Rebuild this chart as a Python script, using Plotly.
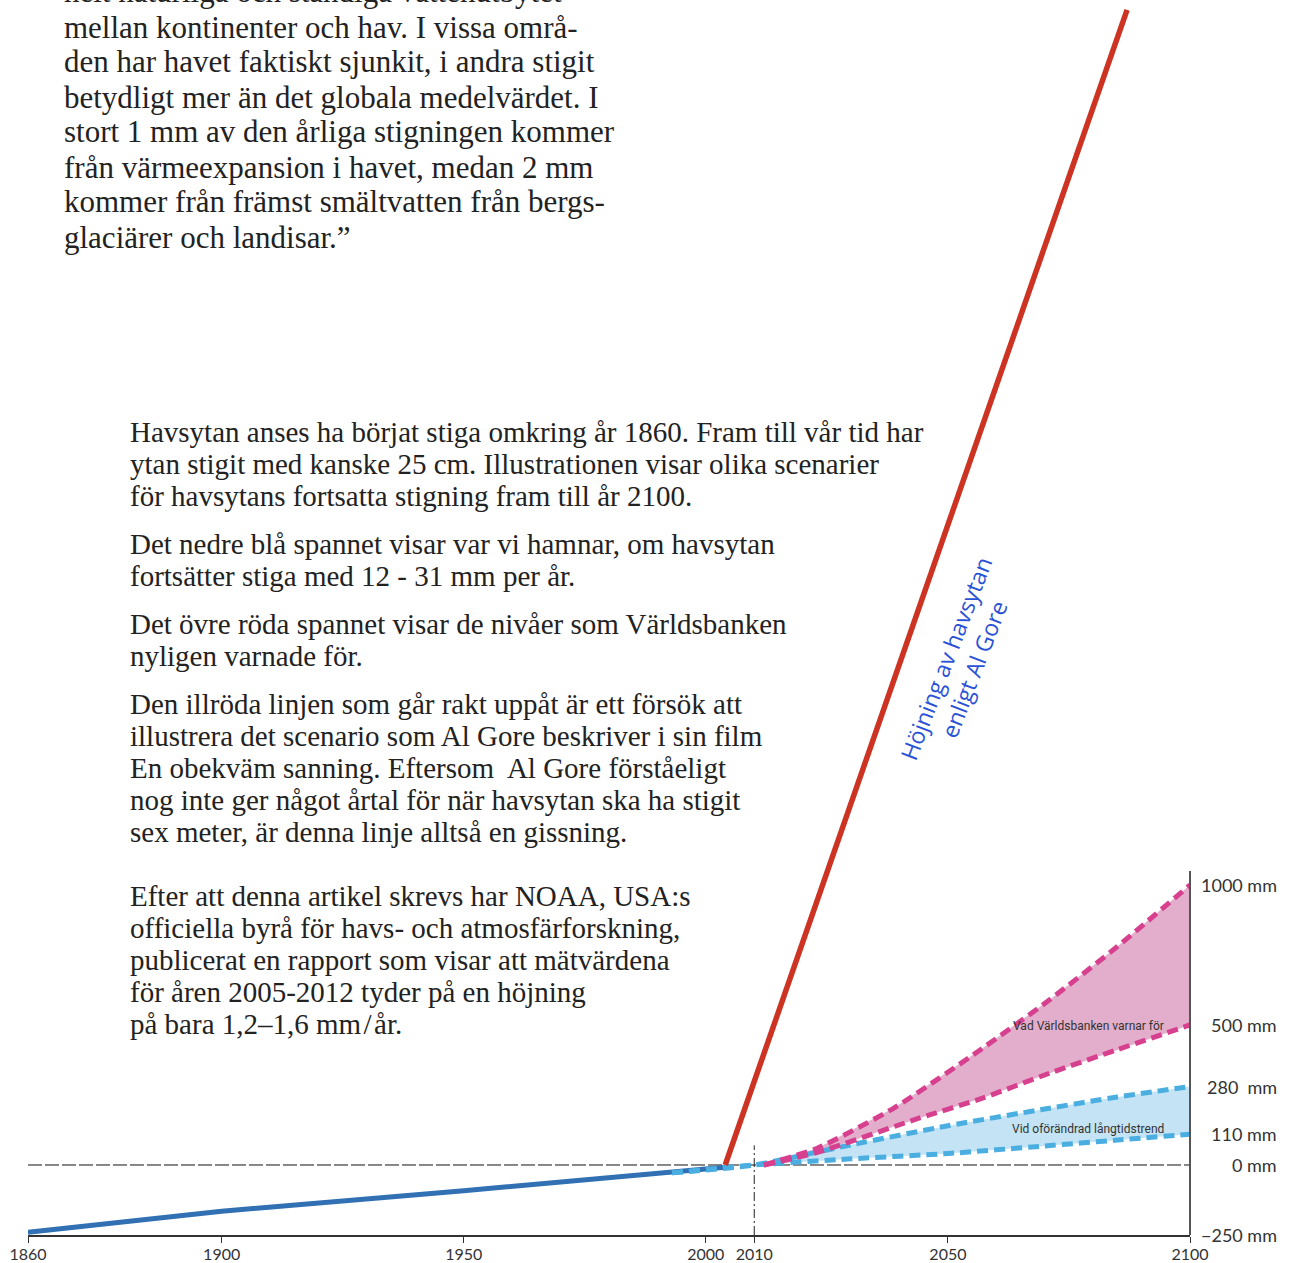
import plotly.graph_objects as go

# ---------------- data (years, mm) ----------------
hist_years = [1860, 1900, 1950, 1993, 2004]
hist_mm = [-240, -165, -92, -28, -8]

blue_years = [1993, 2010, 2030, 2050, 2070, 2085, 2100]
blue_upper_mm = [-28, 0, 72, 140, 200, 243, 280]
blue_lower_mm = [-28, 0, 22, 41, 68, 89, 110]

pink_upper_years = [2012, 2023, 2039, 2057, 2071, 2085, 2100]
pink_upper_mm = [0, 60, 205, 415, 590, 780, 1000]
pink_lower_years = [2012, 2023, 2044, 2057, 2071, 2085, 2100]
pink_lower_mm = [0, 45, 167, 238, 328, 412, 500]

gore_years = [2004, 2087]
gore_mm = [0, 4125]

x_tick_vals = [1860, 1900, 1950, 2000, 2010, 2050, 2100]
x_tick_text = ["1860", "1900", "1950", "2000", "2010", "2050", "2100"]
y_tick_vals = [1000, 500, 280, 110, 0, -250]
y_tick_text = ["1000 mm", "500 mm", "280\u00a0 mm", "110 mm", "0 mm", "\u2212250 mm"]

top_lines = [
    "helt naturliga och ständiga vattenutbytet",
    "mellan kontinenter och hav. I vissa områ-",
    "den har havet faktiskt sjunkit, i andra stigit",
    "betydligt mer än det globala medelvärdet. I",
    "stort 1 mm av den årliga stigningen kommer",
    "från värmeexpansion i havet, medan 2 mm",
    "kommer från främst smältvatten från bergs-",
    "glaciärer och landisar.\u201d",
]

paragraphs = [
    ["Havsytan anses ha börjat stiga omkring år 1860. Fram till vår tid har",
     "ytan stigit med kanske 25 cm. Illustrationen visar olika scenarier",
     "för havsytans fortsatta stigning fram till år 2100."],
    ["Det nedre blå spannet visar var vi hamnar, om havsytan",
     "fortsätter stiga med 12 - 31 mm per år."],
    ["Det övre röda spannet visar de nivåer som Världsbanken",
     "nyligen varnade för."],
    ["Den illröda linjen som går rakt uppåt är ett försök att",
     "illustrera det scenario som Al Gore beskriver i sin film",
     "En obekväm sanning. Eftersom\u00a0 Al Gore förståeligt",
     "nog inte ger något årtal för när havsytan ska ha stigit",
     "sex meter, är denna linje alltså en gissning."],
    ["Efter att denna artikel skrevs har NOAA, USA:s",
     "officiella byrå för havs- och atmosfärforskning,",
     "publicerat en rapport som visar att mätvärdena",
     "för åren 2005-2012 tyder på en höjning",
     "på bara 1,2\u20131,6 mm\u200a/\u200aår."],
]

# ---------------- layout geometry ----------------
W, H = 1291, 1263
ML, MR, MT, MB = 28, 101, 0, 28
PW, PH = W - ML - MR, H - MT - MB


def px_x(p):
    return (p - ML) / PW


def px_y(p):
    return 1 - (p - MT) / PH


PINK_LINE = "#d6408e"
PINK_FILL = "rgba(221,160,194,0.85)"
BLUE_LINE = "#4aaee0"
BLUE_FILL = "rgba(190,224,243,0.9)"
DARK_BLUE = "#3070b3"
RED = "#cc3322"
DASH = "11px,6px"
SERIF = "Liberation Serif"

fig = go.Figure()

# fills
fig.add_trace(go.Scatter(x=blue_years, y=blue_lower_mm, mode="lines",
                         line=dict(width=0), hoverinfo="skip"))
fig.add_trace(go.Scatter(x=blue_years, y=blue_upper_mm, mode="lines",
                         line=dict(width=0), fill="tonexty", fillcolor=BLUE_FILL,
                         hoverinfo="skip"))
fig.add_trace(go.Scatter(x=pink_lower_years, y=pink_lower_mm, mode="lines",
                         line=dict(width=0), hoverinfo="skip"))
fig.add_trace(go.Scatter(x=pink_upper_years, y=pink_upper_mm, mode="lines",
                         line=dict(width=0), fill="tonexty", fillcolor=PINK_FILL,
                         hoverinfo="skip"))

# historical
fig.add_trace(go.Scatter(x=hist_years, y=hist_mm, mode="lines",
                         line=dict(color=DARK_BLUE, width=5)))

# dashed scenario lines
for xs, ys, col in [(blue_years, blue_lower_mm, BLUE_LINE),
                    (blue_years, blue_upper_mm, BLUE_LINE),
                    (pink_lower_years, pink_lower_mm, PINK_LINE),
                    (pink_upper_years, pink_upper_mm, PINK_LINE)]:
    fig.add_trace(go.Scatter(x=xs, y=ys, mode="lines",
                             line=dict(color=col, width=5, dash=DASH, shape="spline",
                                       smoothing=0.6)))

# Al Gore line
fig.add_trace(go.Scatter(x=gore_years, y=gore_mm, mode="lines",
                         line=dict(color=RED, width=5.5)))

shapes = [
    # zero line
    dict(type="line", xref="paper", yref="y", x0=0, x1=1, y0=0, y1=0,
         line=dict(color="#111", width=1, dash="14px,3px"), layer="below"),
    # 2010 marker
    dict(type="line", xref="x", yref="y", x0=2010, x1=2010, y0=-250, y1=70,
         line=dict(color="#222", width=1, dash="9px,3px,2px,3px"), layer="below"),
    # right axis line
    dict(type="line", xref="paper", yref="y", x0=1, x1=1, y0=-250, y1=1050,
         line=dict(color="#555", width=2)),
]

annotations = []
# right axis labels
for v, t in zip(y_tick_vals, y_tick_text):
    annotations.append(dict(xref="paper", yref="y", x=px_x(1279), y=v, text=t,
                            showarrow=False, xanchor="right", yanchor="middle",
                            font=dict(family="Lato", size=18, color="#333")))

# band labels
annotations.append(dict(xref="x", yref="y", x=2095, y=497, text="Vad Världsbanken varnar för",
                        showarrow=False, xanchor="right", yanchor="middle",
                        font=dict(family="Roboto", size=12, color="#333")))
annotations.append(dict(xref="x", yref="y", x=2095, y=127, text="Vid oförändrad långtidstrend",
                        showarrow=False, xanchor="right", yanchor="middle",
                        font=dict(family="Roboto", size=12, color="#333")))

# Al Gore label
annotations.append(dict(xref="x", yref="y", x=2052.4, y=1790,
                        text="Höjning av havsytan<br>enligt Al Gore",
                        showarrow=False, textangle=-69, align="center",
                        font=dict(family="Open Sans", size=23, color="#2a52d6")))

# top text block (first line cut off at the top edge)
for i, line in enumerate(top_lines):
    annotations.append(dict(xref="paper", yref="paper", x=px_x(62), y=px_y(-8 + 35 * i),
                            text=line, showarrow=False, xanchor="left", yanchor="middle",
                            font=dict(family=SERIF, size=31, color="#222")))

para_starts = [432, 544, 624, 704, 896]
for start, lines in zip(para_starts, paragraphs):
    for i, line in enumerate(lines):
        annotations.append(dict(xref="paper", yref="paper", x=px_x(128),
                                y=px_y(start + 32 * i), text=line, showarrow=False,
                                xanchor="left", yanchor="middle",
                                font=dict(family=SERIF, size=29, color="#222")))

fig.update_layout(
    width=W, height=H,
    margin=dict(l=ML, r=MR, t=MT, b=MB),
    paper_bgcolor="white", plot_bgcolor="white",
    showlegend=False,
    shapes=shapes, annotations=annotations,
    xaxis=dict(range=[1860, 2100], tickvals=x_tick_vals, ticktext=x_tick_text,
               showgrid=False, zeroline=False, showline=True, linecolor="#333",
               linewidth=1.5, ticks="outside", ticklen=6, tickcolor="#333",
               tickfont=dict(family="Lato", size=16, color="#333"),
               ticklabelstandoff=-2,
               automargin=False, fixedrange=True),
    yaxis=dict(range=[-250, 4160], visible=False, showgrid=False, zeroline=False,
               fixedrange=True),
)

fig.write_html("out.html", config={"displayModeBar": False},
               post_script="document.body.style.margin='0';document.body.style.overflow='hidden';")
